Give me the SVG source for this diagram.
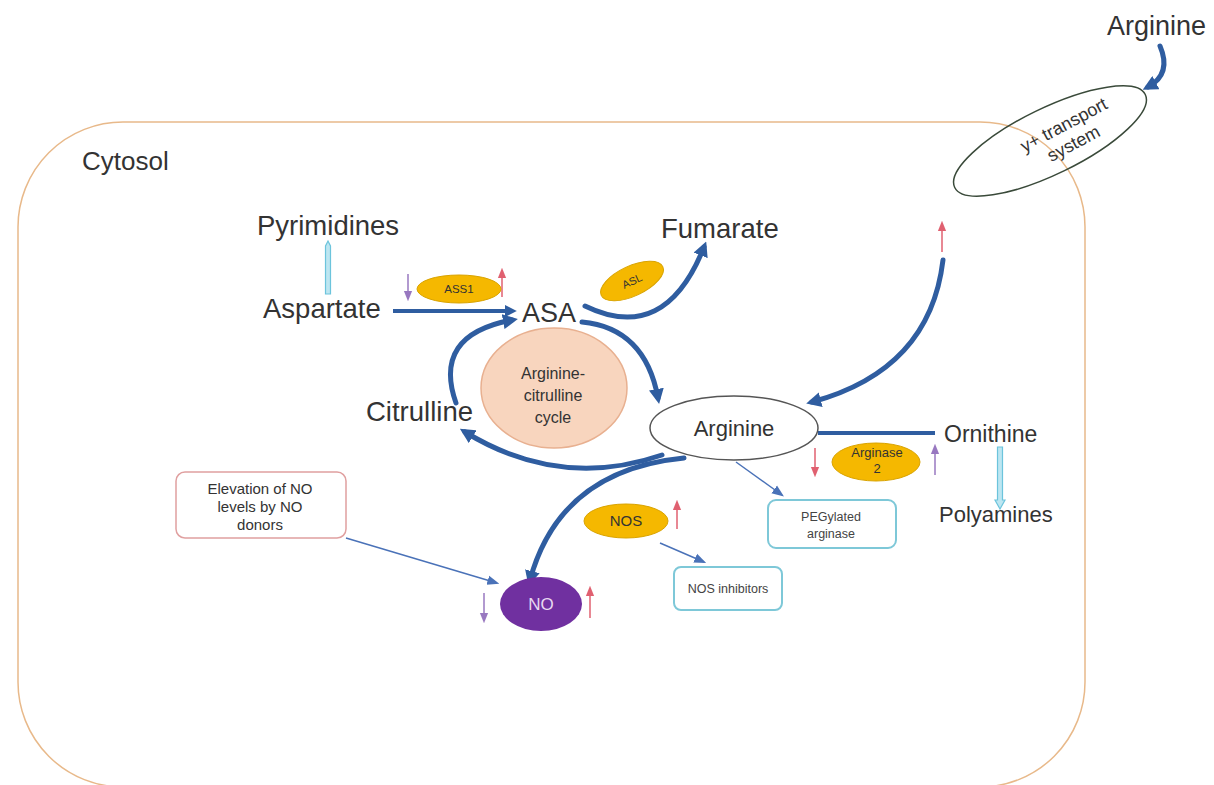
<svg xmlns="http://www.w3.org/2000/svg" width="1214" height="785" viewBox="0 0 1214 785">
<style>
.t{font-family:"Liberation Sans",Arial,sans-serif;fill:#333}
.big{font-size:27.5px}
.mid{font-size:22px}
.sm{font-size:12.5px;fill:#444}
.enz{fill:#F5B800;stroke:#D9A300;stroke-width:1}
.flow{fill:none;stroke:#2F5DA0;stroke-width:4}
.curve{fill:none;stroke:#2F5DA0;stroke-width:5;stroke-linecap:round}
.thin{fill:none;stroke:#4A72B8;stroke-width:1.5}
.box{fill:#fff;stroke:#7EC8D8;stroke-width:2}
.up{stroke:#E06070;stroke-width:1.5;fill:none}
.down{stroke:#9878C0;stroke-width:1.5;fill:none}
.lb{fill:#BDE6F1;stroke:#6CC4DC;stroke-width:1.2}
</style>
<defs>
<marker id="ah" viewBox="0 0 10 10" refX="6" refY="5" markerWidth="3" markerHeight="3" orient="auto"><path d="M0,0 L10,5 L0,10 z" fill="#2F5DA0"/></marker>
<marker id="ahs" viewBox="0 0 10 10" refX="8" refY="5" markerWidth="8" markerHeight="8" orient="auto"><path d="M0,1 L10,5 L0,9 z" fill="#4A72B8"/></marker>
<marker id="ar" viewBox="0 0 10 10" refX="5" refY="5" markerWidth="7" markerHeight="7" orient="auto"><path d="M0,1 L10,5 L0,9 z" fill="#E06070"/></marker>
<marker id="ap" viewBox="0 0 10 10" refX="5" refY="5" markerWidth="7" markerHeight="7" orient="auto"><path d="M0,1 L10,5 L0,9 z" fill="#9878C0"/></marker>
</defs>
<rect width="1214" height="785" fill="#fff"/>
<g id="cytosol">
<rect x="18" y="122" width="1067" height="665" rx="105" ry="105" fill="none" stroke="#E8B98A" stroke-width="1.5"/>
<text class="t" x="82" y="170" font-size="26">Cytosol</text>
</g>
<g id="connectors">
<path class="curve" d="M1160,46 Q1172,74 1148,87" marker-end="url(#ah)"/>
<path class="lb" d="M325.5,294 L325.5,246 L328,241 L330.5,246 L330.5,294 Z"/>
<path class="flow" d="M393,311 L512,311" marker-end="url(#ah)"/>
<path class="curve" d="M585,306 Q665,345 704,247" marker-end="url(#ah)"/>
<path class="curve" d="M943,260 Q930,370 812,402" marker-end="url(#ah)"/>
<path class="curve" d="M456,403 Q432,335 512,320" marker-end="url(#ah)"/>
<path class="curve" d="M582,322 Q645,328 658,398" marker-end="url(#ah)"/>
<path class="curve" d="M662,455 Q560,490 465,432" marker-end="url(#ah)"/>
<path class="curve" d="M684,458 Q560,470 530,580" marker-end="url(#ah)"/>
<path class="flow" d="M818,433 L935,433"/>
<path class="lb" d="M997.5,447 L1002.5,447 L1002.5,500 L1005,500 L1000,509 L995,500 L997.5,500 Z"/>
<path class="thin" d="M736,462 L782,495" marker-end="url(#ahs)"/>
<path class="thin" d="M660,543 L704,562" marker-end="url(#ahs)"/>
<path class="thin" d="M346,538 L497,583" marker-end="url(#ahs)"/>
<path class="down" d="M408,274 L408,296" marker-end="url(#ap)"/>
<path class="up" d="M502,297 L502,273" marker-end="url(#ar)"/>
<path class="up" d="M942,252 L942,226" marker-end="url(#ar)"/>
<path class="up" d="M815,448 L815,472" marker-end="url(#ar)"/>
<path class="down" d="M935,475 L935,449" marker-end="url(#ap)"/>
<path class="up" d="M677,529 L677,505" marker-end="url(#ar)"/>
<path class="up" d="M590,618 L590,591" marker-end="url(#ar)"/>
<path class="down" d="M484,593 L484,618" marker-end="url(#ap)"/>
</g>
<g id="arginine-ext"><text class="t" x="1107" y="35" font-size="27">Arginine</text></g>
<g id="transport">
<ellipse cx="1050" cy="141" rx="106" ry="33" transform="rotate(-26 1050 141)" fill="none" stroke="#3A4A3A" stroke-width="1.5"/>
<g transform="rotate(-28 1068 133)"><text class="t" x="1068" y="130" font-size="18" text-anchor="middle">y+ transport</text><text class="t" x="1068" y="151" font-size="18" text-anchor="middle">system</text></g>
</g>
<g id="pyrimidines"><text class="t big" x="257" y="235">Pyrimidines</text></g>
<g id="aspartate"><text class="t big" x="263" y="318">Aspartate</text></g>
<g id="ass1"><ellipse class="enz" cx="459" cy="289" rx="42" ry="14"/><text class="t" x="459" y="293" font-size="11.5" text-anchor="middle">ASS1</text></g>
<g id="asa"><text class="t" x="522" y="322" font-size="27">ASA</text></g>
<g id="asl"><ellipse class="enz" cx="632" cy="281" rx="34" ry="15" transform="rotate(-25 632 281)"/><text class="t" x="632" y="285" font-size="11" text-anchor="middle" transform="rotate(-25 632 281)">ASL</text></g>
<g id="fumarate"><text class="t big" x="661" y="238">Fumarate</text></g>
<g id="cycle"><ellipse cx="554" cy="388" rx="73" ry="60" fill="#F8D5BE" stroke="#E8B090" stroke-width="1.5"/>
<text class="t" font-size="16" text-anchor="middle"><tspan x="553" y="379">Arginine-</tspan><tspan x="553" y="401">citrulline</tspan><tspan x="553" y="423">cycle</tspan></text></g>
<g id="citrulline"><text class="t big" x="366" y="421">Citrulline</text></g>
<g id="arginine"><ellipse cx="734" cy="428" rx="84" ry="32" fill="#fff" stroke="#555" stroke-width="1.5"/><text class="t" x="734" y="436" font-size="22" text-anchor="middle">Arginine</text></g>
<g id="ornithine"><text class="t" x="944" y="442" font-size="23">Ornithine</text></g>
<g id="arginase2"><ellipse class="enz" cx="876" cy="462" rx="44" ry="19"/><text class="t" font-size="13" text-anchor="middle"><tspan x="877" y="457">Arginase</tspan><tspan x="877" y="473">2</tspan></text></g>
<g id="polyamines"><text class="t mid" x="939" y="522">Polyamines</text></g>
<g id="peg"><rect class="box" x="768" y="500" width="128" height="48" rx="8"/><text class="t sm" font-size="13" text-anchor="middle"><tspan x="831" y="521">PEGylated</tspan><tspan x="831" y="538">arginase</tspan></text></g>
<g id="nos"><ellipse class="enz" cx="626" cy="521" rx="42" ry="17"/><text class="t" x="626" y="526" font-size="15" text-anchor="middle">NOS</text></g>
<g id="nosinh"><rect class="box" x="674" y="567" width="108" height="43" rx="7"/><text class="t sm" x="728" y="593" text-anchor="middle">NOS inhibitors</text></g>
<g id="no"><ellipse cx="541" cy="604" rx="41" ry="27" fill="#7030A0"/><text x="541" y="610" font-size="17" text-anchor="middle" font-family="Liberation Sans,Arial,sans-serif" fill="#E8D8F0">NO</text></g>
<g id="donors"><rect x="176" y="472" width="170" height="66" rx="9" fill="#fff" stroke="#E0A0A0" stroke-width="1.5"/><text class="t" font-size="15" text-anchor="middle" fill="#444"><tspan x="260" y="494">Elevation of NO</tspan><tspan x="260" y="512">levels by NO</tspan><tspan x="260" y="530">donors</tspan></text></g>
</svg>
